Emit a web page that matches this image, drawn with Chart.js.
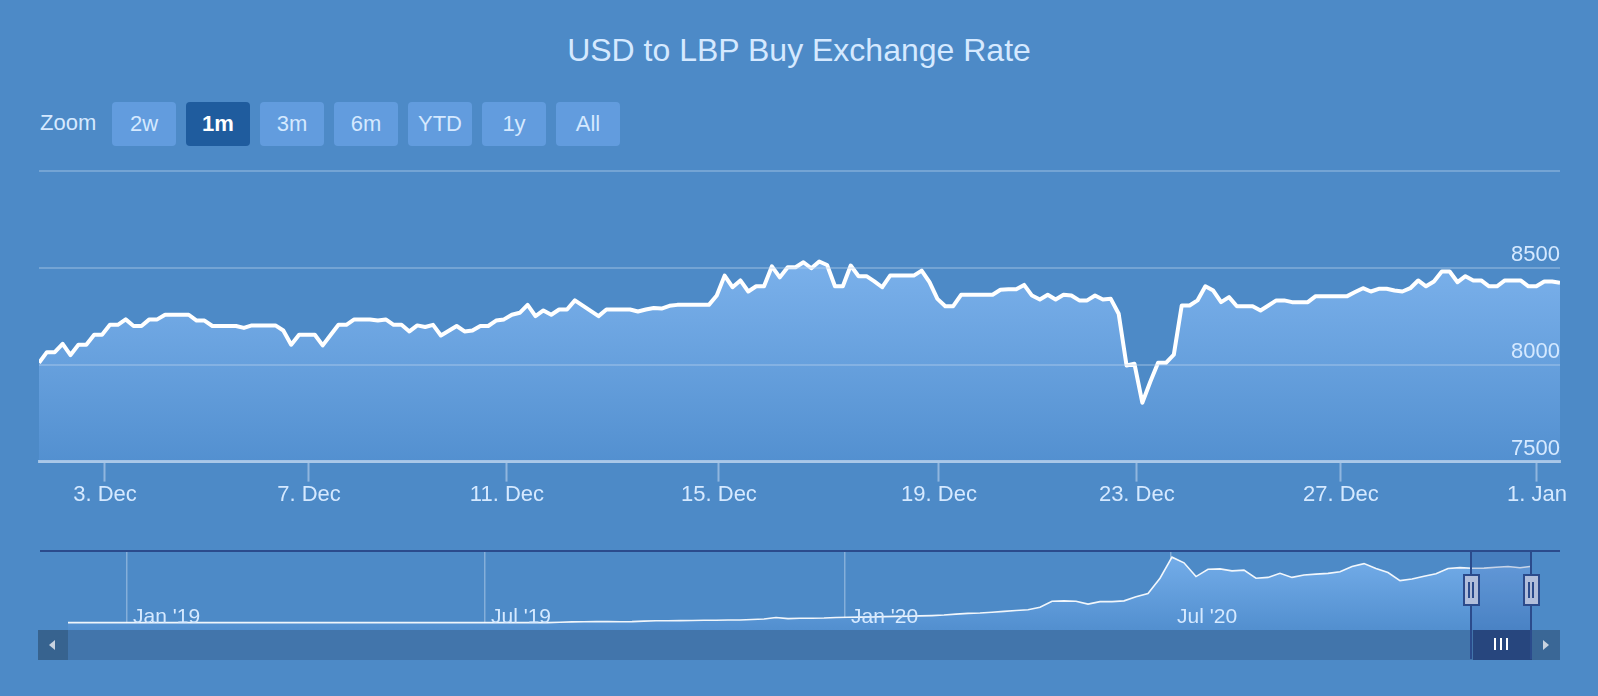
<!DOCTYPE html>
<html>
<head>
<meta charset="utf-8">
<script src="https://cdn.jsdelivr.net/npm/chart.js@4.4.0/dist/chart.umd.min.js"></script>
<style>
html, body { margin: 0; padding: 0; background: #4d8ac7; }
body { width: 1598px; height: 696px; position: relative; overflow: hidden; font-family: "Liberation Sans", Arial, Helvetica, sans-serif; }
#title { position: absolute; left: 0; top: 30px; width: 1598px; text-align: center; font-size: 32px; line-height: 40px; color: #d5e9ff; }
#zoomLbl { position: absolute; left: 40px; top: 108px; font-size: 22px; line-height: 30px; color: #d5e9ff; }
.btn { position: absolute; top: 102px; width: 64px; height: 44px; border-radius: 4px; background: #629cde; color: #d5e9ff; font-size: 22px; line-height: 44px; text-align: center; }
.btn.on { background: #1f5c9e; color: #fff; font-weight: bold; }
#mainWrap { position: absolute; left: 0; top: 0; width: 1598px; height: 508px; }
#navWrap { position: absolute; left: 0; top: 551px; width: 1598px; height: 79px; }
.abs { position: absolute; }
</style>
</head>
<body>
<div id="title">USD to LBP Buy Exchange Rate</div>
<div id="zoomLbl">Zoom</div>
<div id="buttons"></div>
<div id="mainWrap"><canvas id="mainChart"></canvas></div>
<div id="navWrap"><canvas id="navChart"></canvas></div>
<div id="overlay"></div>
<script>
// range selector
var zoomButtons = ["2w", "1m", "3m", "6m", "YTD", "1y", "All"];
var activeButton = "1m";

// main series: buy rate, one value per reading (ordinal spacing)
var rates = [
  8010, 8065, 8065, 8108, 8050, 8103, 8103, 8155, 8155, 8206, 8206, 8234, 8200, 8200, 8234, 8234,
  8258, 8258, 8258, 8258, 8228, 8228, 8200, 8200, 8200, 8200, 8190, 8203, 8203, 8203, 8203, 8177, 8103,
  8155, 8155, 8155, 8100, 8153, 8206, 8206, 8234, 8234, 8234, 8228, 8234, 8206, 8206, 8172, 8203, 8195, 8206, 8151, 8175,
  8200, 8172, 8177, 8200, 8200, 8228, 8234, 8258, 8268, 8309, 8251, 8280, 8258, 8285, 8285, 8332, 8305, 8278, 8251,
  8285, 8285, 8285, 8285, 8275, 8285, 8293, 8290, 8304, 8309, 8309, 8309, 8309, 8309,
  8357, 8460, 8400, 8435, 8378, 8405, 8405, 8508, 8451, 8503, 8503, 8529, 8498, 8533, 8515, 8405, 8405,
  8512, 8457, 8457, 8430, 8400, 8460, 8460, 8460, 8460, 8486, 8426, 8340, 8302, 8302,
  8361, 8361, 8361, 8361, 8361, 8387, 8389, 8390, 8412, 8357, 8337, 8361, 8337, 8361, 8357, 8332, 8332, 8357, 8337, 8340,
  8263, 7996, 8005, 7804, 7911, 8010, 8010, 8052, 8306, 8306, 8332, 8405, 8383, 8323, 8349, 8302, 8302, 8302, 8280, 8306,
  8332, 8332, 8323, 8323, 8323, 8354, 8354, 8354, 8354, 8354, 8375, 8395, 8378, 8392, 8392, 8383, 8378, 8395,
  8435, 8405, 8430, 8481, 8481, 8426, 8457, 8435, 8435, 8405, 8405, 8435, 8435, 8435, 8405, 8405, 8430, 8430, 8423
];
var dayTicks = ["3. Dec", "7. Dec", "11. Dec", "15. Dec", "19. Dec", "23. Dec", "27. Dec", "1. Jan"];
var dayTickPos = [8.37, 34.26, 59.38, 86.28, 114.2, 139.3, 165.2, 190.07];
var yTicks = [7500, 8000, 8500, 9000];

// navigator series: whole history
var navRates = [
  1507, 1507, 1507, 1507, 1507, 1507, 1507, 1507, 1507, 1507, 1507, 1507, 1507, 1507, 1507, 1507, 1507, 1507, 1507, 1507,
  1507, 1507, 1507, 1507, 1507, 1507, 1507, 1507, 1507, 1507, 1507, 1507, 1507, 1507, 1507, 1507, 1507, 1507, 1507, 1507, 1507,
  1560, 1600, 1620, 1630, 1630, 1620, 1640, 1700, 1750, 1740, 1760, 1780, 1800, 1810, 1840, 1830, 1900, 1950, 2150, 2000,
  2050, 2050, 2080, 2150, 2180, 2190, 2200, 2250, 2280, 2300, 2340, 2380, 2450, 2560, 2650, 2700, 2800, 2900, 3000, 3100,
  3400, 4150, 4200, 4150, 3800, 4100, 4100, 4200, 4700, 5100, 7000, 9600, 8900, 7200, 8100, 8150, 7900, 8000, 7000, 7100,
  7600, 7100, 7400, 7500, 7600, 7800, 8450, 8800, 8200, 7700, 6700, 6900, 7250, 7550, 8200, 8300, 8230, 8250, 8350, 8450, 8300, 8480
];
var navTicks = ["Jan '19", "Jul '19", "Jan '20", "Jul '20"];
var navTickPos = [4.92, 34.75, 64.75, 91.92];
var navRange = [116.92, 122];

var FONT = '"Liberation Sans", Arial, Helvetica, sans-serif';
var TEXT = "#d5e9ff";
Chart.defaults.font.family = FONT;

// buttons
var btnBox = document.getElementById("buttons");
zoomButtons.forEach(function (b, i) {
  var d = document.createElement("div");
  d.className = "btn" + (b === activeButton ? " on" : "");
  d.style.left = (112 + i * 74) + "px";
  d.textContent = b;
  btnBox.appendChild(d);
});

function fillGrad(top) {
  return function (c) {
    var chart = c.chart, a = chart.chartArea;
    if (!a) return "rgba(0,0,0,0)";
    var g = chart.ctx.createLinearGradient(0, chart.scales.y.getPixelForValue(top), 0, a.bottom);
    g.addColorStop(0, "rgb(123,177,235)");
    g.addColorStop(1, "rgb(83,144,208)");
    return g;
  };
}

var ctxM = document.getElementById("mainChart").getContext("2d");
var mainChart = new Chart(ctxM, {
  type: "line",
  data: {
    datasets: [{
      data: rates.map(function (v, i) { return { x: i, y: v }; }),
      borderColor: "#ffffff",
      borderWidth: 4,
      borderJoinStyle: "round",
      pointRadius: 0,
      tension: 0,
      fill: "start",
      backgroundColor: fillGrad(8540)
    }]
  },
  options: {
    responsive: true,
    maintainAspectRatio: false,
    animation: false,
    layout: { padding: { left: 39, right: 38, top: 171, bottom: 0 } },
    plugins: { legend: { display: false }, tooltip: { enabled: false } },
    scales: {
      x: {
        type: "linear",
        min: 0,
        max: rates.length - 1,
        afterBuildTicks: function (s) { s.ticks = dayTickPos.map(function (v) { return { value: v }; }); },
        ticks: {
          autoSkip: false, maxRotation: 0, padding: 0, color: TEXT,
          font: { size: 22 },
          callback: function (v, i) { return dayTicks[i]; }
        },
        grid: { drawOnChartArea: false, drawTicks: true, tickLength: 20, tickWidth: 2, tickColor: "rgba(190,212,238,0.6)" },
        border: { color: "rgba(190,212,238,0.75)", width: 3, z: 1 }
      },
      y: {
        position: "right",
        min: 7500,
        max: 9000,
        afterBuildTicks: function (s) { s.ticks = yTicks.map(function (v) { return { value: v }; }); },
        ticks: {
          z: 2, autoSkip: false, mirror: true, padding: 0, labelOffset: -13, color: TEXT,
          font: { size: 22 },
          callback: function (v) { return v === 9000 ? "" : String(v); }
        },
        grid: { z: 1, color: "rgba(190,212,238,0.35)", lineWidth: 2, drawTicks: false },
        border: { display: false }
      }
    }
  }
});

var navLabels = {
  id: "navLabels",
  afterDatasetsDraw: function (chart) {
    var ctx = chart.ctx, xs = chart.scales.x, a = chart.chartArea;
    ctx.save();
    ctx.font = "21px " + FONT;
    ctx.fillStyle = TEXT;
    ctx.textBaseline = "middle";
    navTickPos.forEach(function (p, i) {
      ctx.fillText(navTicks[i], xs.getPixelForValue(p) + 6, a.bottom - 13);
    });
    ctx.restore();
  }
};

var ctxN = document.getElementById("navChart").getContext("2d");
var navChart = new Chart(ctxN, {
  type: "line",
  data: {
    datasets: [{
      data: navRates.map(function (v, i) { return { x: i, y: v }; }),
      borderColor: "rgba(255,255,255,0.92)",
      borderWidth: 1.6,
      pointRadius: 0,
      tension: 0,
      fill: "start",
      backgroundColor: function (c) {
        var chart = c.chart, a = chart.chartArea;
        if (!a) return "rgba(0,0,0,0)";
        var g = chart.ctx.createLinearGradient(0, a.top, 0, a.bottom);
        g.addColorStop(0, "rgb(118,175,235)");
        g.addColorStop(1, "rgb(82,143,207)");
        return g;
      }
    }]
  },
  plugins: [navLabels],
  options: {
    responsive: true,
    maintainAspectRatio: false,
    animation: false,
    layout: { padding: { left: 68, right: 66, top: 0, bottom: 0 } },
    plugins: { legend: { display: false }, tooltip: { enabled: false } },
    scales: {
      x: {
        type: "linear",
        min: 0,
        max: navRates.length - 1,
        afterBuildTicks: function (s) { s.ticks = navTickPos.map(function (v) { return { value: v }; }); },
        ticks: { display: false },
        grid: { color: "rgba(190,212,238,0.5)", lineWidth: 1.5, drawTicks: false },
        border: { display: false }
      },
      y: { display: false, min: 600, max: 10360 }
    }
  }
});

// navigator outline, mask, handles and scrollbar
var ov = document.getElementById("overlay");
function box(l, t, w, h, css) {
  var d = document.createElement("div");
  d.className = "abs";
  d.style.left = l + "px"; d.style.top = t + "px";
  d.style.width = w + "px"; d.style.height = h + "px";
  if (css) d.style.cssText += css;
  ov.appendChild(d);
  return d;
}
var xs = navChart.scales.x;
var top0 = 551;
var selL = Math.round(xs.getPixelForValue(navRange[0]));
var selR = Math.round(xs.getPixelForValue(navRange[1])) - 1;
var trackL = Math.round(navChart.chartArea.left), trackR = Math.round(navChart.chartArea.right);

box(selL, top0, selR - selL, 79, "background:rgba(45,85,160,0.22)");
box(40, top0 - 1, 1520, 2, "background:#2b4b8c");
// scrollbar
box(38, 630, 1522, 30, "background:#4275ab");
box(38, 630, trackL - 38, 30, "background:#37638f");
box(trackR, 630, 1560 - trackR, 30, "background:#3a6796");
box(49, 640, 0, 0, "border-top:5px solid transparent;border-bottom:5px solid transparent;border-right:6px solid #c9d3e0");
box(trackR + 11, 640, 0, 0, "border-top:5px solid transparent;border-bottom:5px solid transparent;border-left:6px solid #c9d3e0");
box(selL + 2, 630, selR - selL - 1, 30, "background:#27467e");
var mid = (selL + selR) / 2;
[-6, 0, 6].forEach(function (o) { box(Math.round(mid + o - 1), 638, 2, 12, "background:#ffffff"); });
// handles
[selL, selR].forEach(function (x) {
  box(x - 1, top0, 2, 108, "background:#2b4b8c");
  box(x - 8, 574, 13, 28, "background:#b1bedb;border:2px solid #2b4b8c");
  box(x - 3, 582, 1.5, 16, "background:#2b4b8c");
  box(x + 1, 582, 1.5, 16, "background:#2b4b8c");
});
</script>
</body>
</html>
